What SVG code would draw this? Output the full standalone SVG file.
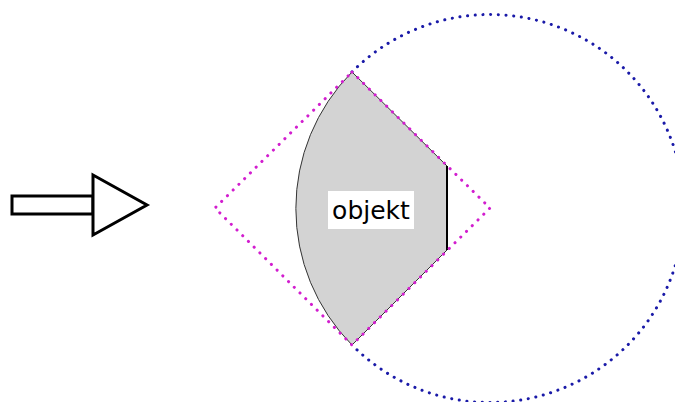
<svg xmlns="http://www.w3.org/2000/svg" width="675" height="402" viewBox="0 0 675 402">
<style>
.dotb{fill:none;stroke:#1a1aa8;stroke-width:3;stroke-dasharray:0.1 7.6;stroke-linecap:round}
.dotm{fill:none;stroke:#d21ecf;stroke-width:3;stroke-dasharray:0.1 8;stroke-linecap:round}
</style>
<rect width="675" height="402" fill="#fff"/>
<g id="arrow">
<path d="M12,196 H93 V214 H12 Z" fill="#fff" stroke="#000" stroke-width="3"/>
<path d="M93,175 L147,205 L93,235 Z" fill="#fff" stroke="#000" stroke-width="3"/>
</g>
<g id="circle"><path d="M352,72 A194,194 0 1 1 352,345" class="dotb"/></g>
<g id="object">
<path d="M352,72 L447,166 V250 L352,345 A194,194 0 0 1 352,72 Z" fill="#d3d3d3" stroke="#333" stroke-width="1"/>
<line x1="447" y1="166" x2="447" y2="250" stroke="#000" stroke-width="2"/>
</g>
<g id="diamond"><path d="M352,72 L490,208 L352,345 L215,208 Z" class="dotm"/></g>
<g id="label">
<rect x="328" y="191" width="86" height="38" fill="#fff"/>
<text x="371" y="219" text-anchor="middle" font-family="DejaVu Sans, sans-serif" font-size="25" fill="#000">objekt</text>
</g>
</svg>
